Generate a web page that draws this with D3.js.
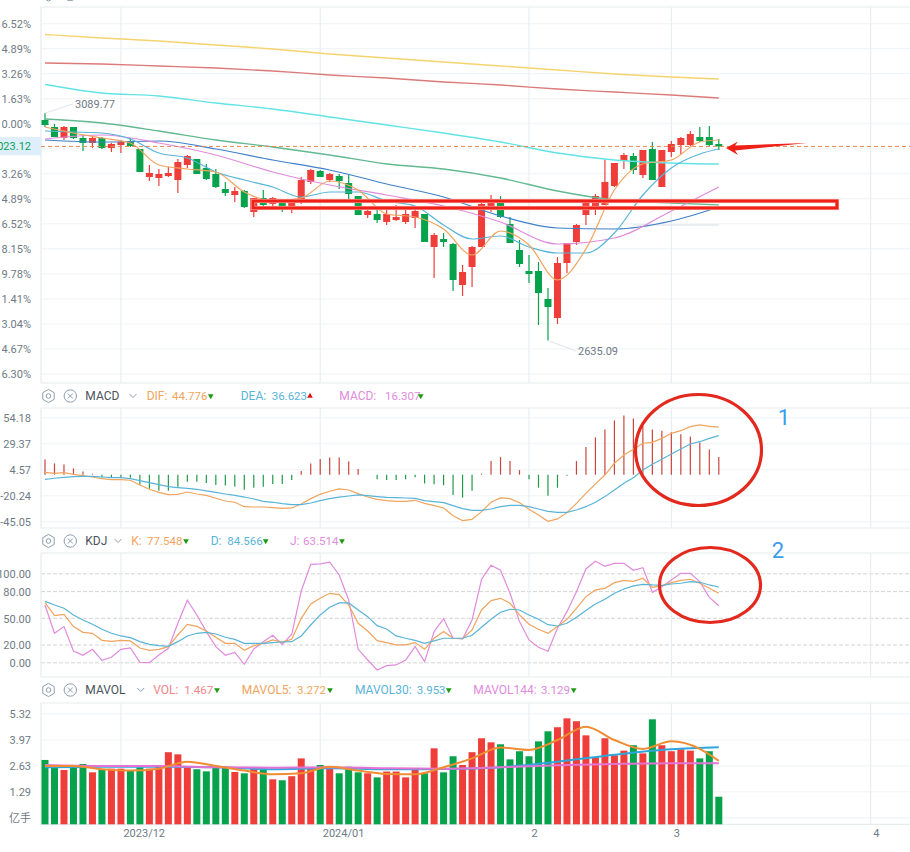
<!DOCTYPE html>
<html>
<head>
<meta charset="utf-8">
<script src="https://cdn.jsdelivr.net/npm/d3@7"></script>
<style>
  html, body { margin: 0; padding: 0; background: #fff; }
  svg { display: block; font-family: Roboto, "Noto Sans CJK SC", sans-serif; font-size: 11px; }
  .axis text { fill: #6f7a85; font-size: 11px; font-family: Roboto, "Noto Sans CJK SC", sans-serif; }
  .axis path { display: none; }
  .grid path { display: none; }
  .grid line { stroke: #eef2f5; }
  .grid.dash line { stroke: #d4d4d4; stroke-dasharray: 4,2; }
  .ma { fill: none; }
</style>
</head>
<body>
<div id="chart"></div>
<script>
// candles, index 0 = first visible day
var opens  = [3076,3062,3040,3062,3040,3030,3040,3020,3026,3034,3018,2962,2960,2964,2956,2986,2998,2980,2968,2938,2926,2934,2892,2920,2908,2918,2900,2914,2952,2974,2956,2964,2950,2924,2886,2888,2872,2876,2872,2880,2888,2822,2838,2828,2746,2782,2822,2896,2912,2868,2816,2774,2774,2718,2680,2790,2832,2886,2900,2906,2944,2994,3004,2966,3018,2942,3012,3026,3026,3042,3042,3028]
var closes = [3066,3042,3062,3040,3030,3040,3020,3028,3032,3024,2972,2970,2968,2970,2992,3004,2968,2958,2942,2930,2934,2902,2920,2906,2920,2902,2916,2956,2976,2962,2968,2954,2928,2886,2894,2876,2888,2882,2888,2894,2832,2846,2832,2756,2772,2822,2908,2912,2882,2830,2788,2768,2730,2702,2790,2830,2866,2912,2924,2952,2990,3006,2976,3016,2956,3016,3028,3040,3048,3034,3026,3023.12]
var highs  = [3089.77,3068,3064,3062,3046,3042,3042,3030,3036,3040,3018,2986,2978,2982,2998,3006,2998,2988,2978,2952,2942,2936,2920,2936,2922,2918,2918,2962,2978,2976,2970,2968,2966,2924,2900,2904,2896,2906,2904,2900,2888,2850,2850,2830,2786,2824,2910,2926,2924,2882,2836,2806,2792,2740,2802,2830,2868,2912,2928,2996,2990,3010,3010,3016,3032,3016,3034,3042,3054,3062,3064,3038]
var lows   = [3062,3042,3036,3038,3014,3020,3018,3012,3010,3022,2972,2954,2944,2962,2930,2980,2968,2956,2940,2924,2912,2900,2882,2902,2902,2892,2890,2908,2948,2962,2952,2938,2918,2886,2880,2870,2866,2874,2868,2860,2832,2760,2822,2734,2724,2742,2822,2892,2880,2830,2782,2750,2666,2635.09,2668,2770,2826,2866,2886,2906,2942,2978,2968,2960,2956,2942,3002,3008,3024,3032,3024,3016]

// moving averages are read at these candle numbers
var slowIdx = [0,6,12,18,24,30,36,42,48,54,60,66,71]
var fastIdx = [0,3,6,9,12,15,18,21,24,27,30,33,36,39,42,45,48,51,54,57,60,63,66,69,71]
var maGold    = [3247,3240,3234,3226,3218,3208,3200,3192,3184,3176,3168,3162,3158]
var maRed     = [3190,3188,3184,3180,3174,3166,3160,3152,3146,3138,3132,3126,3120]
var maCyan    = [3147,3130,3124,3110,3098,3082,3066,3050,3032,3010,2996,2990,2988]
var maGreen   = [3078,3070,3054,3036,3022,3006,2988,2978,2960,2934,2916,2910,2906]
var maBlue    = [3036,3032,3034,3018,2996,2976,2948,2922,2884,2860,2858,2874,2902]
var maPurple  = [3038,3046,3030,3006,2972,2946,2926,2904,2872,2828,2840,2894,2942]
var maSky     = [3054,3052,3050,3038,3010,3000,2972,2956,2942,2922,2932,2932,2914,2904,2866,2838,2844,2822,2810,2810,2850,2926,2980,3008,3018]
var maOrange  = [3062,3050,3040,3030,2986,2978,2972,2932,2914,2920,2954,2936,2888,2882,2858,2806,2854,2826,2756,2818,2936,2988,2996,3032,3036]
var greyIdx   = [62,71]
var maGrey    = [2866,2866]

var percentTicks = [6.52,4.89,3.26,1.63,0,-1.63,-3.26,-4.89,-6.52,-8.15,-9.78,-11.41,-13.04,-14.67,-16.30]
var basePrice = 3069.4

var macdHist = [14,10.2,9.2,5.4,2.5,0.3,-3.2,-3.8,-3.8,-3.5,-10.2,-14,-15.9,-15.9,-12,-7.3,-7.3,-8.6,-10.5,-11,-11.8,-15,-13,-12,-9.5,-9.5,-5.7,2.9,10.2,14.3,15.9,15.9,12,4.8,-0.6,-5,-5.7,-5.7,-5,-3,-9,-9.6,-10.6,-20,-22.5,-16,0.3,12.4,16.2,12.4,3.8,-5,-13,-20.7,-13,-1.6,12.4,25.8,35,42.6,51.2,56,53.1,46.1,42.6,41.3,39.8,37.9,35.9,30.2,23.5,16.307]
var dif = [1.7,0.7,1.4,-0.2,-1.5,-2.8,-4.4,-5.3,-5.3,-5.9,-10.4,-14.5,-17.4,-19.6,-19.3,-17.1,-19,-20.3,-23.1,-25.7,-26.9,-31.1,-31.4,-31.4,-32,-32.7,-32.3,-28.5,-23.4,-19.3,-16.4,-14.2,-15.2,-18.7,-21.9,-24.1,-25.3,-26,-26,-25,-27.9,-30.1,-32.3,-39.7,-44.4,-43.2,-35.8,-26.9,-22.8,-23.4,-27.3,-33.6,-39,-45.1,-42.8,-36.8,-27.9,-18.4,-9.4,-0.9,10.3,18.2,23.6,29.4,30.3,34.1,38.9,41.4,45.3,46.9,45.6,44.776]
var dea = [-5,-4,-3.1,-2.4,-2.1,-2.1,-2.8,-3.4,-3.4,-4.4,-6.3,-8.2,-10.1,-12,-12.9,-13.6,-14.5,-16.1,-17.4,-19,-20.3,-21.9,-23.8,-26,-26.9,-28.2,-29.2,-29.2,-27.6,-25.3,-23.4,-21.9,-20.9,-19.9,-20.6,-21.5,-22.2,-22.5,-22.8,-23.1,-25.3,-26.3,-27.3,-30.1,-33,-34.6,-34.6,-33.3,-31.1,-29.8,-29.8,-31.1,-33.3,-35.5,-36.5,-36.5,-34.3,-31.1,-26.9,-21.5,-15.2,-8.8,-3.4,3.9,9.3,14.1,19.2,23.9,28.7,30.9,34.1,36.623]
var macdTicks = [54.18,29.37,4.57,-20.24,-45.05]

var kLine = [67,52.4,53.9,40.1,33.7,32.6,24.7,23.6,24.7,24,16.1,13.5,14.6,17.6,30.7,42.7,40.4,35.2,28.1,21.3,21.3,13.5,18.7,21.3,25.1,22.8,25.8,49.4,65.5,71.9,77.5,76,64.4,43.8,35.2,24.3,22.1,19.5,19.5,22.1,14.6,27,34.5,27,26.6,36.3,58.8,69.3,71.9,66.3,53.2,42.7,37.1,32.6,40.1,48.3,60.7,73.8,81.3,83.1,89.5,92.1,91,94.4,84.3,85.8,89.5,92.1,93.3,88.8,83.1,77.548]
var jLine = [64.4,32.6,40.1,12.7,7.9,14.6,2.2,5.6,14.6,16.1,0,-0.4,8.2,15.7,43.8,69.7,53.2,34.5,17.6,7.9,11.2,-2.2,15,23.2,30.3,20.2,31.5,80.1,110.1,110.5,112.4,98.1,70,14.6,2.6,-8.6,-3.7,-3,2.6,17.6,0.7,34.5,49.1,27,26.2,47.6,93.3,109,103.4,77.5,45.7,25.1,16.9,12.4,38.2,56.9,79.4,104.9,113.5,107.9,111.2,111.2,103.4,106.4,78.7,85,92.5,100,100,90.6,73,63.514]
var dLine = [68.5,64.4,60.7,53.2,47.6,42.7,37.1,32.6,29.6,27.7,23.2,20.2,18.7,18,23.2,29.6,32.6,33.7,31.8,28.1,25.8,21.3,21.3,21.3,22.1,22.8,23.2,29.6,41.9,53.2,61.8,66.7,66.7,58.8,51.3,41.2,37.5,29.6,27,24.7,21.3,24,27,27,27,30.3,39.3,48.3,56.2,59.6,58.8,53.2,48.3,42.3,40.8,43.8,50.6,58.1,65.5,70.8,77.5,82.4,85.8,87.6,86.9,86.5,88,88.8,90.6,89.9,86.9,84.566]
var kdjTicks = [100,80,50,20,0]

var volumes = [2.91,2.53,2.39,2.53,2.70,2.27,2.39,2.46,2.46,2.39,2.53,2.46,2.56,3.31,3.20,2.56,2.43,2.32,2.53,2.53,2.29,2.22,2.48,2.48,1.91,1.86,2.07,2.99,2.48,2.65,2.46,2.22,2.56,2.27,2.22,2.01,2.31,2.31,2.01,2.43,2.22,3.51,2.27,3.10,2.65,3.31,4.03,3.82,3.72,2.94,3.36,3.10,3.87,4.39,4.60,5.06,4.91,4.18,3.05,4.03,3.15,3.39,3.67,3.25,5.01,3.67,3.36,3.46,3.39,2.99,3.36,1.01]
var mavol5   = [2.60,2.60,2.43,2.36,2.46,2.82,2.60,2.36,2.17,2.22,2.56,2.36,2.19,2.17,2.53,2.99,3.55,3.43,3.94,4.63,3.94,3.48,3.87,3.48,2.86]
var mavol30  = [2.53,2.56,2.56,2.53,2.43,2.48,2.43,2.44,2.53,2.82,3.18,3.46,3.56]
var mavol144 = [2.65,2.60,2.60,2.53,2.51,2.53,2.48,2.46,2.53,2.63,2.70,2.74,2.74]
var volTicks = [5.32,3.97,2.63,1.29,-0.05]

var monthIdx = [8,29,51,66,87]
var monthLabels = ["2023/12","2024/01","2","3","4"]

var RED = "#ef3e3a", GREEN = "#06a24c"
var ORANGE = "#f0a45e", SKY = "#58b4d8", PURPLE = "#e08bdc"
var width = 910, height = 852, left = 41

var svg = d3.select("#chart").append("svg").attr("width", width).attr("height", height)

// the price axis text runs off the left edge of the page, the minus signs go with it
svg.append("clipPath").attr("id", "priceLabels").append("rect")
  .attr("x", -31 + 1.7).attr("y", 0).attr("width", 40).attr("height", 400)

var x = d3.scaleLinear().domain([0, 71]).range([45, 718.8])
var yPrice = d3.scaleLinear().domain([3302, 2550]).range([7, 383])
var yMacd = d3.scaleLinear().domain([54.18, -45.05]).range([417.3, 521.3])
var yKdj = d3.scaleLinear().domain([100, 0]).range([573.3, 662.3])
var yVol = d3.scaleLinear().domain([5.32, 1.29]).range([713.3, 791.3])

// one pane: frame, grid, month lines, value axis
function pane(top, bottom, y, ticks, fmt, dashed) {
  var g = svg.append("g")
  g.append("g")
    .attr("class", dashed ? "grid dash" : "grid")
    .attr("transform", "translate(" + left + ",0)")
    .call(d3.axisLeft(y).tickValues(ticks).tickSize(-(width - left)).tickFormat(""))
  g.selectAll(".mline").data(monthIdx).enter().append("line")
    .attr("x1", d => x(d)).attr("x2", d => x(d))
    .attr("y1", top).attr("y2", bottom)
    .attr("stroke", "#e9eef1").attr("stroke-width", 1.2)
  g.append("path")
    .attr("d", "M" + width + "," + top + "H" + left + "V" + bottom + "H" + width)
    .attr("fill", "none").attr("stroke", "#e6ebee").attr("stroke-width", 1.2)
  var axis = g.append("g")
    .attr("class", "axis")
    .attr("transform", "translate(31,0)")
    .call(d3.axisLeft(y).tickValues(ticks).tickSize(0).tickPadding(0).tickFormat(fmt))
  axis.selectAll("text").attr("dy", "0.4em")
  return axis
}

function drawLine(y, idx, values, color, w) {
  var line = d3.line()
    .x((d, i) => x(idx[i]))
    .y(d => y(d))
    .curve(d3.curveMonotoneX)
  svg.append("path").datum(values).attr("class", "ma")
    .attr("d", line).attr("stroke", color).attr("stroke-width", w)
}

function drawDayLine(y, values, color) {
  svg.append("path").datum(values).attr("class", "ma")
    .attr("d", d3.line().x((d, i) => x(i)).y(d => y(d)))
    .attr("stroke", color).attr("stroke-width", 1.2)
}

// price pane, the -1.63% label sits under the last price tag
pane(7, 383, yPrice, percentTicks.map(p => basePrice * (1 + p / 100)), (d, i) => i == 5 ? "" : percentTicks[i].toFixed(2) + "%")
  .attr("clip-path", "url(#priceLabels)")

var candles = opens.map((o, i) => ({ i: i, o: o, c: closes[i], h: highs[i], l: lows[i] }))
var cg = svg.append("g")
cg.selectAll("line").data(candles).enter().append("line")
  .attr("x1", d => x(d.i)).attr("x2", d => x(d.i))
  .attr("y1", d => yPrice(d.h)).attr("y2", d => yPrice(d.l))
  .attr("stroke", d => d.c >= d.o ? RED : GREEN).attr("stroke-width", 1.2)
cg.selectAll("rect").data(candles).enter().append("rect")
  .attr("x", d => x(d.i) - 3.5).attr("width", 7)
  .attr("y", d => yPrice(Math.max(d.o, d.c)))
  .attr("height", d => Math.abs(yPrice(d.o) - yPrice(d.c)))
  .attr("fill", d => d.c >= d.o ? RED : GREEN)

drawLine(yPrice, greyIdx, maGrey, "#dcdfe2", 1.2)
drawLine(yPrice, slowIdx, maGold, "#f5d36e", 1.4)
drawLine(yPrice, slowIdx, maRed, "#dc7a7a", 1.3)
drawLine(yPrice, slowIdx, maCyan, "#62e3e6", 1.4)
drawLine(yPrice, slowIdx, maGreen, "#62b990", 1.3)
drawLine(yPrice, slowIdx, maBlue, "#3f80c8", 1.2)
drawLine(yPrice, slowIdx, maPurple, "#e08bdc", 1.2)
drawLine(yPrice, fastIdx, maSky, SKY, 1.2)
drawLine(yPrice, fastIdx, maOrange, ORANGE, 1.2)

// last price line and tag
var lastY = yPrice(closes[71])
svg.append("line").attr("x1", left).attr("x2", width).attr("y1", lastY).attr("y2", lastY)
  .attr("stroke", "#e88a50").attr("stroke-width", 1).attr("stroke-dasharray", "4,3")
svg.append("rect").attr("x", 0).attr("y", lastY - 9.5).attr("width", left).attr("height", 18.5).attr("fill", "#deeefb")
svg.append("text").attr("x", 31).attr("y", lastY + 4).attr("text-anchor", "end")
  .attr("fill", "#0aa35a").text(closes[71].toFixed(2))

// high / low notes
function note(i, price, tx, ty, label) {
  svg.append("line").attr("x1", x(i)).attr("y1", yPrice(price)).attr("x2", tx - 2).attr("y2", ty)
    .attr("stroke", "#dfe4ea").attr("stroke-width", 1)
  svg.append("text").attr("x", tx).attr("y", ty + 4).attr("fill", "#6f7a85").text(label)
}
note(0, highs[0], 75, 104, "3089.77")
note(53, lows[53], 578, 351, "2635.09")

// macd pane
pane(408, 528, yMacd, macdTicks, d => d.toFixed(2))
svg.append("g").selectAll("line").data(macdHist).enter().append("line")
  .attr("x1", (d, i) => x(i)).attr("x2", (d, i) => x(i))
  .attr("y1", yMacd(0) + 0.6).attr("y2", d => yMacd(d))
  .attr("stroke", d => d >= 0 ? "#c8453f" : "#1f9a4a").attr("stroke-width", 1.2)
drawDayLine(yMacd, dif, ORANGE)
drawDayLine(yMacd, dea, SKY)

// kdj pane
pane(553, 677, yKdj, kdjTicks, d => d.toFixed(2), true)
drawDayLine(yKdj, jLine, PURPLE)
drawDayLine(yKdj, kLine, ORANGE)
drawDayLine(yKdj, dLine, SKY)

// volume pane
pane(703, 824.3, yVol, volTicks, d => d < 0 ? "亿手" : d.toFixed(2))
svg.append("g").selectAll("rect").data(volumes).enter().append("rect")
  .attr("x", (d, i) => x(i) - 3.5).attr("width", 7)
  .attr("y", d => yVol(d)).attr("height", d => 824.3 - yVol(d))
  .attr("fill", (d, i) => closes[i] >= opens[i] ? RED : GREEN)
drawLine(yVol, slowIdx, mavol30, "#2fa6dc", 2)
drawLine(yVol, slowIdx, mavol144, "#e472d2", 2)
drawLine(yVol, fastIdx, mavol5, "#f08c32", 2)

// month labels
var xAxis = d3.axisBottom(x).tickValues(monthIdx).tickSize(0).tickPadding(0)
  .tickFormat((d, i) => monthLabels[i])
var xg = svg.append("g").attr("class", "axis").attr("transform", "translate(0,829)").call(xAxis)
xg.selectAll("text").attr("text-anchor", "start").attr("dx", 2)

// legends
function icons(cy) {
  var hex = d3.range(6).map(k => {
    var a = Math.PI / 6 + k * Math.PI / 3
    return (48.5 + 6.6 * Math.cos(a)) + "," + (cy + 6.6 * Math.sin(a))
  }).join(" ")
  svg.append("polygon").attr("points", hex).attr("fill", "none").attr("stroke", "#8b9db0").attr("stroke-width", 1)
  svg.append("circle").attr("cx", 48.5).attr("cy", cy).attr("r", 2.3).attr("fill", "none").attr("stroke", "#8b9db0")
  svg.append("circle").attr("cx", 70.3).attr("cy", cy).attr("r", 6.2).attr("fill", "none").attr("stroke", "#8b9db0")
  svg.append("path").attr("d", "M67.8," + (cy - 2.5) + "l5,5m0,-5l-5,5").attr("stroke", "#8b9db0").attr("fill", "none")
}
function legendName(cy, label, chevronX) {
  svg.append("text").attr("x", 85.3).attr("y", cy + 4).attr("fill", "#4a535c").attr("font-size", 12).text(label)
  svg.append("path").attr("d", "M" + (chevronX - 3.5) + "," + (cy - 2) + "l3.5,3.5l3.5,-3.5")
    .attr("fill", "none").attr("stroke", "#8b9db0")
}
function legendItem(cy, label, lx, value, vx, color, ax, up) {
  svg.append("text").attr("x", lx).attr("y", cy + 4).attr("fill", color).attr("font-size", 12).text(label)
  svg.append("text").attr("x", vx).attr("y", cy + 4).attr("fill", color).attr("font-size", 11.5).text(value)
  svg.append("path")
    .attr("d", d3.symbol().type(d3.symbolTriangle).size(14))
    .attr("transform", "translate(" + ax + "," + cy + ")" + (up ? "" : " rotate(180)"))
    .attr("fill", up ? "#e01010" : "#1f9a10")
}

icons(-5.5)
icons(396)
legendName(396, "MACD", 133)
legendItem(396, "DIF:", 146.7, "44.776", 172, ORANGE, 210.7, false)
legendItem(396, "DEA:", 240.7, "36.623", 271.7, SKY, 310, true)
legendItem(396, "MACD:", 339.3, "16.307", 385, PURPLE, 420.7, false)

icons(541)
legendName(541, "KDJ", 118)
legendItem(541, "K:", 131.3, "77.548", 147, ORANGE, 186, false)
legendItem(541, "D:", 210.7, "84.566", 227.3, SKY, 265.7, false)
legendItem(541, "J:", 290, "63.514", 303, PURPLE, 342, false)

icons(690)
legendName(690, "MAVOL", 140.7)
legendItem(690, "VOL:", 153.3, "1.467", 184.3, "#f0848a", 217, false)
legendItem(690, "MAVOL5:", 241.7, "3.272", 297, ORANGE, 330, false)
legendItem(690, "MAVOL30:", 355, "3.953", 416.7, SKY, 448.7, false)
legendItem(690, "MAVOL144:", 473.3, "3.129", 541, PURPLE, 573.7, false)

// hand-drawn marks on top of the chart
svg.append("rect").attr("x", 253).attr("y", 201).attr("width", 584).attr("height", 7)
  .attr("fill", "none").attr("stroke", "#f9b4ae").attr("stroke-width", 4.2)
svg.append("rect").attr("x", 253).attr("y", 201).attr("width", 584).attr("height", 7)
  .attr("fill", "none").attr("stroke", "#ee2018").attr("stroke-width", 3)
svg.append("polygon").attr("points", "726,148 738,141.5 735,145.5 807,143 735,150.5 738,155").attr("fill", "#ee2018")
svg.append("ellipse").attr("cx", 698.5).attr("cy", 450).attr("rx", 63).attr("ry", 55.5)
  .attr("fill", "none").attr("stroke", "#e3281e").attr("stroke-width", 3.2)
svg.append("ellipse").attr("cx", 710).attr("cy", 585).attr("rx", 50.5).attr("ry", 37.5)
  .attr("fill", "none").attr("stroke", "#e3281e").attr("stroke-width", 3.2)
svg.append("text").attr("x", 784).attr("y", 425).attr("text-anchor", "middle")
  .attr("fill", "#3a9cec").attr("font-size", 22).text("1")
svg.append("text").attr("x", 778).attr("y", 558).attr("text-anchor", "middle")
  .attr("fill", "#3a9cec").attr("font-size", 22).text("2")
</script>
</body>
</html>
